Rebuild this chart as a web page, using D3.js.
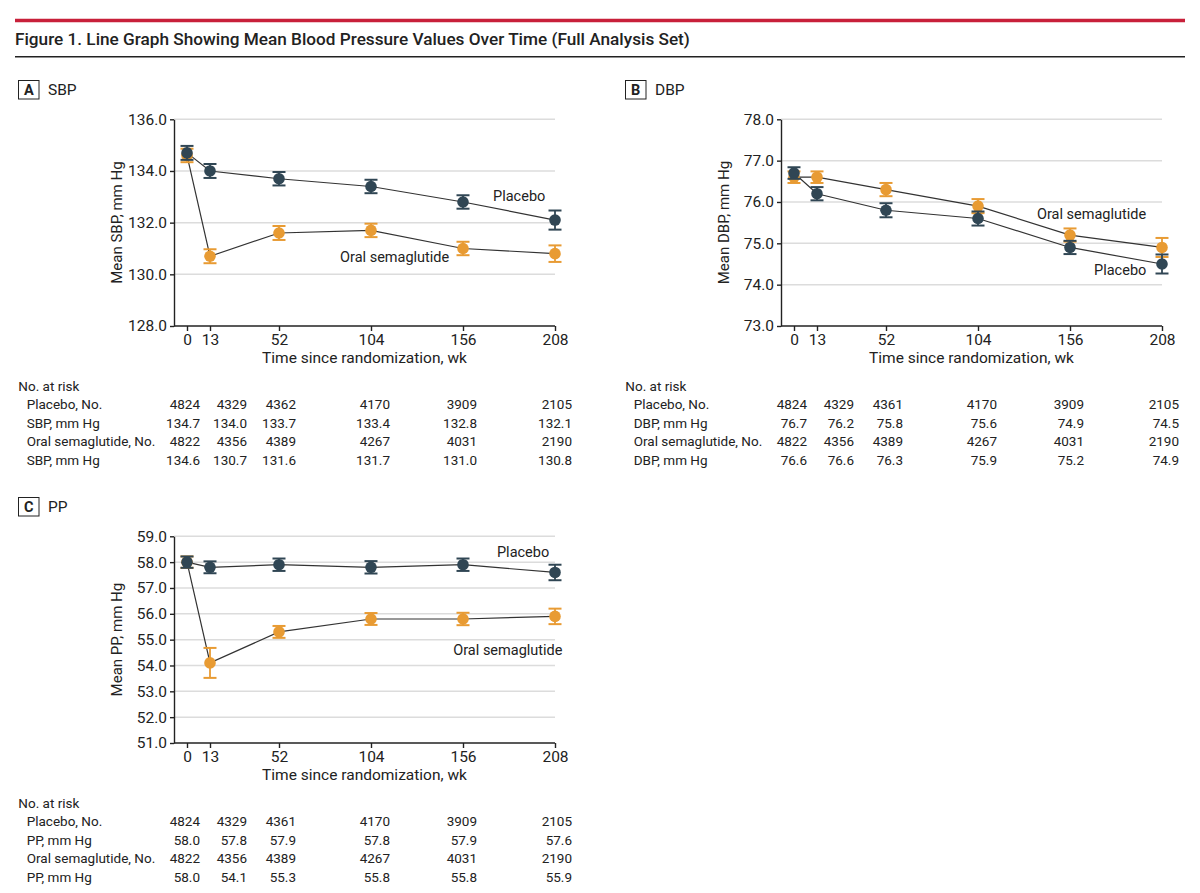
<!DOCTYPE html>
<html>
<head>
<meta charset="utf-8">
<script src="https://cdn.jsdelivr.net/npm/d3@7"></script>
<style>
  body { margin: 0; background: #fff; }
  text { font-family: Roboto, "Noto Sans", sans-serif; fill: #222; }
</style>
</head>
<body>
<script>
// weeks since randomization
const weeks = [0, 13, 52, 104, 156, 208]

// SBP
const sbpPlacebo = [134.7, 134.0, 133.7, 133.4, 132.8, 132.1]
const sbpPlaceboErr = [0.27, 0.27, 0.26, 0.26, 0.26, 0.37]
const sbpOral = [134.6, 130.7, 131.6, 131.7, 131.0, 130.8]
const sbpOralErr = [0.26, 0.27, 0.27, 0.26, 0.26, 0.32]
const sbpNPlacebo = [4824, 4329, 4362, 4170, 3909, 2105]

// DBP
const dbpPlacebo = [76.7, 76.2, 75.8, 75.6, 74.9, 74.5]
const dbpPlaceboErr = [0.14, 0.16, 0.17, 0.17, 0.16, 0.23]
const dbpOral = [76.6, 76.6, 76.3, 75.9, 75.2, 74.9]
const dbpOralErr = [0.14, 0.14, 0.16, 0.17, 0.16, 0.23]
const dbpNPlacebo = [4824, 4329, 4361, 4170, 3909, 2105]

// PP
const ppPlacebo = [58.0, 57.8, 57.9, 57.8, 57.9, 57.6]
const ppPlaceboErr = [0.22, 0.23, 0.24, 0.24, 0.24, 0.30]
const ppOral = [58.0, 54.1, 55.3, 55.8, 55.8, 55.9]
const ppOralErr = [0.22, 0.58, 0.23, 0.23, 0.24, 0.30]
const ppNPlacebo = [4824, 4329, 4361, 4170, 3909, 2105]

const nOral = [4822, 4356, 4389, 4267, 4031, 2190]

const sbpTicks = [128, 130, 132, 134, 136]
const dbpTicks = [73, 74, 75, 76, 77, 78]
const ppTicks = [51, 52, 53, 54, 55, 56, 57, 58, 59]

const placeboColor = "#304654"
const oralColor = "#e89b33"

const panels = [
  { letter: "A", name: "SBP", dx: 0, dy: 0, ticks: sbpTicks,
    placebo: sbpPlacebo, placeboErr: sbpPlaceboErr, oral: sbpOral, oralErr: sbpOralErr,
    nPlacebo: sbpNPlacebo, placeboLabel: [173, 132.84], oralLabel: [86.5, 130.49] },
  { letter: "B", name: "DBP", dx: 607, dy: 0, ticks: dbpTicks,
    placebo: dbpPlacebo, placeboErr: dbpPlaceboErr, oral: dbpOral, oralErr: dbpOralErr,
    nPlacebo: dbpNPlacebo, placeboLabel: [169.6, 74.23], oralLabel: [137.3, 75.6] },
  { letter: "C", name: "PP", dx: 0, dy: 417, ticks: ppTicks,
    placebo: ppPlacebo, placeboErr: ppPlaceboErr, oral: ppOral, oralErr: ppOralErr,
    nPlacebo: ppNPlacebo, placeboLabel: [175.2, 58.18], oralLabel: [150.5, 54.4] }
]

const svg = d3.select("body")
  .append("svg")
    .attr("width", 1200)
    .attr("height", 893)

// header
svg.append("line")
  .attr("x1", 15).attr("x2", 1185)
  .attr("y1", 20.5).attr("y2", 20.5)
  .attr("stroke", "#c8203a")
  .attr("stroke-width", 3.5)

svg.append("text")
  .attr("x", 15)
  .attr("y", 45)
  .style("font-size", "17.2px")
  .style("font-weight", 500)
  .text("Figure 1. Line Graph Showing Mean Blood Pressure Values Over Time (Full Analysis Set)")

svg.append("line")
  .attr("x1", 15).attr("x2", 1185)
  .attr("y1", 56.7).attr("y2", 56.7)
  .attr("stroke", "#222")
  .attr("stroke-width", 1.5)

const fmt1 = d3.format(".1f")
const colRight = [200, 247, 296, 390, 477, 572]

const drawPanel = (p) => {
  const g = svg.append("g")
    .attr("transform", `translate(${p.dx}, ${p.dy})`)

  // panel tag
  g.append("rect")
    .attr("x", 18.5).attr("y", 80.5)
    .attr("width", 20.5).attr("height", 18.5)
    .attr("fill", "none")
    .attr("stroke", "#222")
    .attr("stroke-width", 1)
  g.append("text")
    .attr("x", 28.75).attr("y", 94.8)
    .attr("text-anchor", "middle")
    .style("font-size", "14.5px")
    .style("font-weight", 700)
    .text(p.letter)
  g.append("text")
    .attr("x", 48).attr("y", 94.8)
    .style("font-size", "15.5px")
    .text(p.name)

  const xScale = d3.scaleLinear()
    .domain([0, 208])
    .range([187, 555])

  const yScale = d3.scaleLinear()
    .domain(d3.extent(p.ticks))
    .range([326, 119.3])

  // gridlines
  g.append("g")
    .selectAll("line")
    .data(p.ticks.slice(1))
    .enter()
    .append("line")
      .attr("x1", 174).attr("x2", 555)
      .attr("y1", d => yScale(d)).attr("y2", d => yScale(d))
      .attr("stroke", "#dcdcdc")
      .attr("stroke-width", 1.5)

  const yAxis = d3.axisLeft(yScale)
    .tickValues(p.ticks)
    .tickFormat(fmt1)
    .tickSize(4)
    .tickSizeOuter(0)
    .tickPadding(3)

  const yg = g.append("g")
    .attr("transform", "translate(174, 0)")
    .call(yAxis)

  const xAxis = d3.axisBottom(xScale)
    .tickValues(weeks)
    .tickSize(5)
    .tickSizeOuter(0)
    .tickPadding(3)

  const xg = g.append("g")
    .attr("transform", "translate(0, 326)")
    .call(xAxis)
  xg.select(".domain").remove()
  xg.append("line")
    .attr("x1", 174).attr("x2", 555)
    .attr("stroke", "#222")
    .attr("stroke-width", 1.4)

  ;[yg, xg].forEach(a => {
    a.selectAll(".domain").attr("stroke", "#222").attr("stroke-width", 1.4)
    a.selectAll(".tick line").attr("stroke", "#222").attr("stroke-width", 1.4)
    a.selectAll(".tick text")
      .style("font-size", "15.5px")
      .style("font-family", "Roboto, sans-serif")
      .attr("fill", "#222")
  })

  g.append("text")
    .attr("x", 364.5).attr("y", 363)
    .attr("text-anchor", "middle")
    .style("font-size", "15.5px")
    .text("Time since randomization, wk")

  g.append("text")
    .attr("transform", "translate(122, 222.6) rotate(-90)")
    .attr("text-anchor", "middle")
    .style("font-size", "15px")
    .text(`Mean ${p.name}, mm Hg`)

  const line = d3.line()
    .x((d, i) => xScale(weeks[i]))
    .y(d => yScale(d))

  const series = [
    { values: p.oral, err: p.oralErr, color: oralColor },
    { values: p.placebo, err: p.placeboErr, color: placeboColor }
  ]

  series.forEach(s => {
    g.append("path")
      .datum(s.values)
      .attr("d", line)
      .attr("fill", "none")
      .attr("stroke", "#333")
      .attr("stroke-width", 1.2)
  })

  series.forEach(s => {
    const pts = s.values.map((v, i) => ({ wk: weeks[i], v: v, e: s.err[i] }))
    const sg = g.append("g")
    const bars = sg.selectAll("g.bar")
      .data(pts)
      .enter()
      .append("g")
    bars.append("line")
      .attr("x1", d => xScale(d.wk)).attr("x2", d => xScale(d.wk))
      .attr("y1", d => yScale(d.v - d.e)).attr("y2", d => yScale(d.v + d.e))
      .attr("stroke", s.color).attr("stroke-width", 1.8)
    bars.selectAll("line.cap")
      .data(d => [[d.wk, d.v - d.e], [d.wk, d.v + d.e]])
      .enter()
      .append("line")
        .attr("class", "cap")
        .attr("x1", d => xScale(d[0]) - 6.5).attr("x2", d => xScale(d[0]) + 6.5)
        .attr("y1", d => yScale(d[1])).attr("y2", d => yScale(d[1]))
        .attr("stroke", s.color).attr("stroke-width", 2)
    bars.append("circle")
      .attr("cx", d => xScale(d.wk))
      .attr("cy", d => yScale(d.v))
      .attr("r", 5.8)
      .attr("fill", s.color)
  })

  g.append("text")
    .attr("x", xScale(p.placeboLabel[0])).attr("y", yScale(p.placeboLabel[1]))
    .style("font-size", "14.5px")
    .text("Placebo")
  g.append("text")
    .attr("x", xScale(p.oralLabel[0])).attr("y", yScale(p.oralLabel[1]))
    .style("font-size", "14.5px")
    .text("Oral semaglutide")

  // numbers at risk table
  const rows = [
    { label: "Placebo, No.", values: p.nPlacebo, f: d3.format("d") },
    { label: `${p.name}, mm Hg`, values: p.placebo, f: fmt1 },
    { label: "Oral semaglutide, No.", values: nOral, f: d3.format("d") },
    { label: `${p.name}, mm Hg`, values: p.oral, f: fmt1 }
  ]

  const tg = g.append("g")
  tg.append("text")
    .attr("x", 18.3).attr("y", 390.5)
    .style("font-size", "13.5px")
    .text("No. at risk")

  rows.forEach((r, ri) => {
    const yy = 409 + ri * 18.5
    tg.append("text")
      .attr("x", 26.7).attr("y", yy)
      .style("font-size", "13.5px")
      .text(r.label)
    tg.selectAll(null)
      .data(r.values)
      .enter()
      .append("text")
        .attr("x", (d, i) => colRight[i])
        .attr("y", yy)
        .attr("text-anchor", "end")
        .style("font-size", "13.5px")
        .text(d => r.f(d))
  })
}

panels.forEach(drawPanel)
</script>
</body>
</html>
